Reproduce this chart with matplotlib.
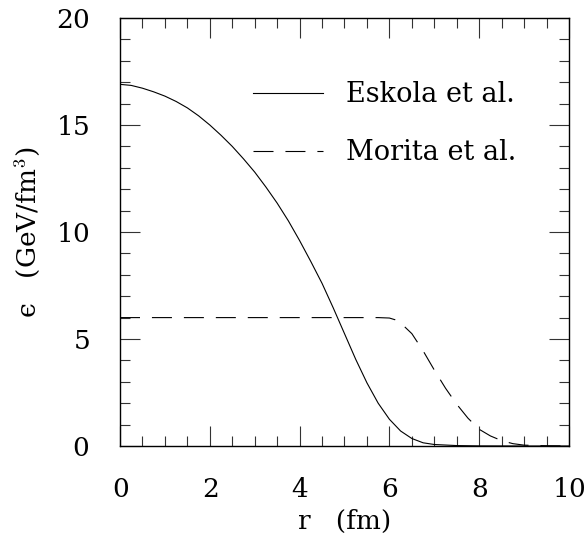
import matplotlib
matplotlib.use("Agg")
import matplotlib.pyplot as plt
from matplotlib.ticker import MultipleLocator

plt.rcParams['font.family'] = ['DejaVu Serif']
plt.rcParams['mathtext.fontset'] = 'cm'
plt.rcParams['axes.formatter.use_mathtext'] = True
plt.rcParams['lines.scale_dashes'] = False

# energy density profiles
r_eskola = [0, 0.25, 0.5, 0.75, 1, 1.25, 1.5, 1.75, 2, 2.25, 2.5, 2.75, 3, 3.25,
            3.5, 3.75, 4, 4.25, 4.5, 4.75, 5, 5.25, 5.5, 5.75, 6, 6.25, 6.5,
            6.75, 7, 7.5, 8, 9, 10]
e_eskola = [16.9, 16.85, 16.72, 16.55, 16.35, 16.1, 15.8, 15.43, 15.0, 14.52, 14.0,
            13.42, 12.8, 12.1, 11.35, 10.52, 9.6, 8.62, 7.6, 6.45, 5.25, 4.05, 2.95,
            2.0, 1.25, 0.7, 0.35, 0.15, 0.07, 0.02, 0.005, 0.0, 0.0]

r_morita = [0, 1, 2, 3, 4, 5, 5.75, 6.0, 6.125, 6.25, 6.5, 6.75, 7.0, 7.25, 7.5,
            7.75, 8.0, 8.25, 8.5, 8.75, 9.0, 9.5, 10]
e_morita = [6.0, 6.0, 6.0, 6.0, 6.0, 6.0, 6.0, 5.98, 5.9, 5.75, 5.25, 4.45, 3.55,
            2.7, 1.95, 1.3, 0.78, 0.47, 0.25, 0.11, 0.04, 0.01, 0.0]

labels = ["Eskola et al.", "Morita et al."]

fig = plt.figure(figsize=(5.86, 5.33), dpi=100)
ax = fig.add_axes([120/586, 1-446/533, 449/586, 428/533])

ax.plot(r_eskola, e_eskola, color='black', lw=0.8, label=labels[0])
ax.plot(r_morita, e_morita, color='black', lw=0.8, dashes=(14.4, 8.6), label=labels[1])

ax.set_xlim(0, 10)
ax.set_ylim(0, 20)
ax.xaxis.set_major_locator(MultipleLocator(2))
ax.xaxis.set_minor_locator(MultipleLocator(0.5))
ax.yaxis.set_major_locator(MultipleLocator(5))
ax.yaxis.set_minor_locator(MultipleLocator(1))
ax.tick_params(which='both', direction='in', top=True, right=True, width=0.8,
               labelsize=19, color='#333333')
ax.tick_params(which='major', length=14.4, pad=22)
ax.tick_params(which='minor', length=7.2)
for s in ax.spines.values():
    s.set_linewidth(1.0)

ax.set_xlabel("r   (fm)", fontsize=19, labelpad=5)
ax.set_ylabel("\u03f5   (GeV/fm$^3$)", fontsize=19, labelpad=10)

ax.legend(loc='upper left', bbox_to_anchor=(0.296, 0.852), frameon=False,
          fontsize=19.5, handlelength=2.6, handletextpad=0.85, labelspacing=1.15,
          borderpad=0, borderaxespad=0)

fig.savefig("out.png", dpi=100)
